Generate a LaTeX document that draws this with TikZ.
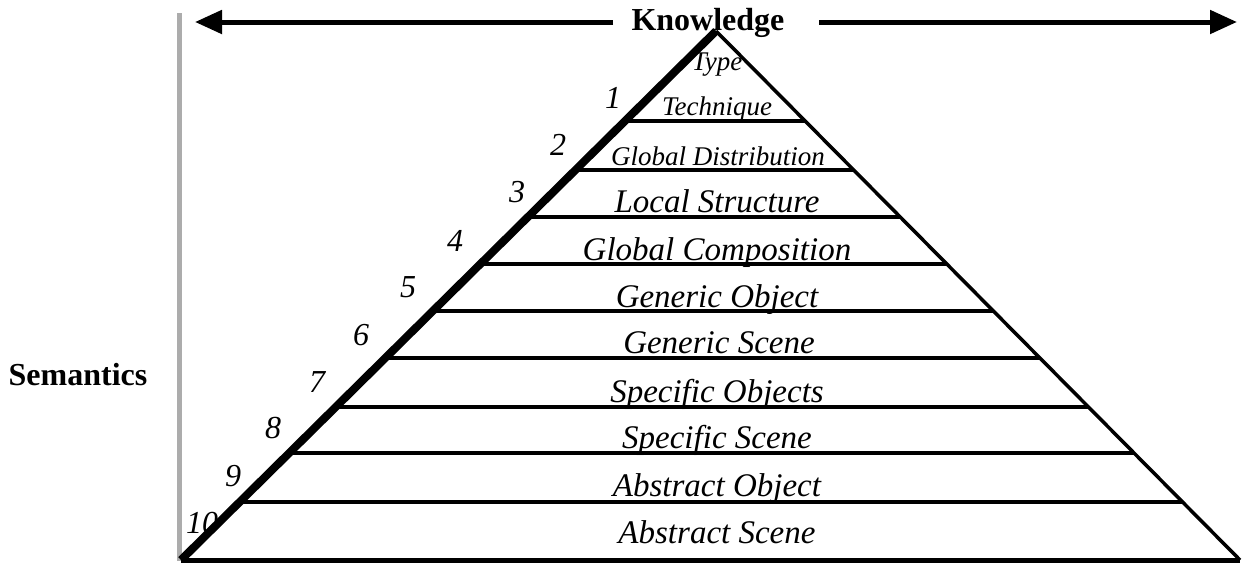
\documentclass[tikz,border=0pt]{standalone}
\usepackage{fontspec}
\setmainfont{Liberation Serif}
\usetikzlibrary{arrows.meta,calc}
\tikzset{
    layer/.style={font=\fontsize{16.5}{18}\selectfont\itshape, anchor=base, inner sep=0pt},
    small layer/.style={font=\fontsize{13.5}{15}\selectfont\itshape, anchor=base, inner sep=0pt},
    num/.style={font=\fontsize{16}{18}\selectfont\itshape, inner sep=0pt},
    axis label/.style={font=\fontsize{16}{18}\selectfont\bfseries, anchor=base, inner sep=0pt},
    split/.style={line width=2pt},
    big arrow/.style={-{Triangle[length=13.5pt,width=11.5pt]}, line width=2.5pt}
}
\begin{document}
\begin{tikzpicture}[x=0.5pt, y=-0.5pt]
        \useasboundingbox (0, 0) rectangle (1243, 563);
        % pyramid corners
        \coordinate (A) at (716, 31);
        \coordinate (BL) at (181, 560);
        \coordinate (BR) at (1240, 560);
        % semantics axis
        \draw[gray!65, line width=2.5pt] (179, 13) -- (179, 561);
        \node[axis label] (sem) at (78, 385) {Semantics};
        % knowledge axis
        \node[axis label] (know) at (708, 30) {Knowledge};
        \coordinate (kl) at (613, 22);
        \coordinate (kr) at (819, 22);
        \coordinate (ltip) at (195, 22);
        \coordinate (rtip) at (1237, 22);
        \draw[big arrow] (kl) -- (ltip);
        \draw[big arrow] (kr) -- (rtip);
        % pyramid
        \draw[line width=1.75pt] (A) -- (BR);
        \draw[line width=2.5pt] (BL) -- (BR);
        \draw[line width=4pt] (BL) -- (A);
        \foreach \y in {121, 170, 217, 264, 311, 358, 407, 453, 502}
            \draw[split] ($(A)!{(\y-31)/529}!(BL)$) -- ($(A)!{(\y-31)/529}!(BR)$);
        % layer names
        \node[small layer] (l1) at (717, 70) {Type};
        \node[small layer] (l2) at (717, 115) {Technique};
        \node[small layer] (l3) at (718, 165) {Global Distribution};
        \node[layer] (l4) at (717, 212) {Local Structure};
        \node[layer] (l5) at (717, 260) {Global Composition};
        \node[layer] (l6) at (717, 307) {Generic Object};
        \node[layer] (l7) at (719, 353) {Generic Scene};
        \node[layer] (l8) at (717, 402) {Specific Objects};
        \node[layer] (l9) at (717, 448) {Specific Scene};
        \node[layer] (l10) at (717, 496) {Abstract Object};
        \node[layer] (l11) at (717, 543) {Abstract Scene};
        % level numbers
        \node[num] (n1) at (613, 98) {1};
        \node[num] (n2) at (558, 145) {2};
        \node[num] (n3) at (517, 192) {3};
        \node[num] (n4) at (455, 241) {4};
        \node[num] (n5) at (408, 287) {5};
        \node[num] (n6) at (361, 335) {6};
        \node[num] (n7) at (317, 382) {7};
        \node[num] (n8) at (273, 428) {8};
        \node[num] (n9) at (233, 476) {9};
        \node[num] (n10) at (202, 523) {10};
    \end{tikzpicture}
\end{document}
